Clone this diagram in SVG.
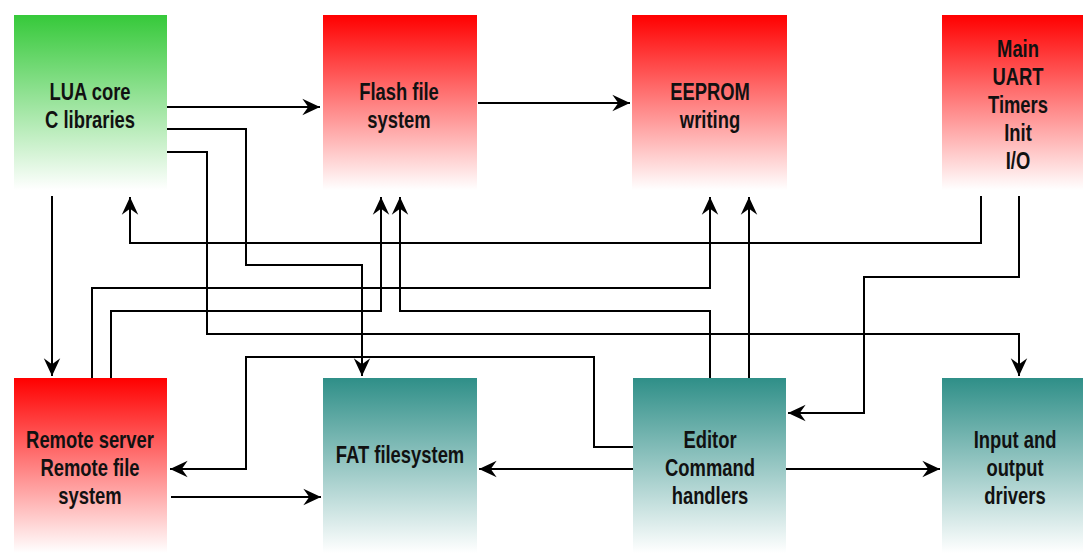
<svg xmlns="http://www.w3.org/2000/svg" width="1083" height="553" viewBox="0 0 1083 553">
  <defs>
    <linearGradient id="gGreen" x1="0" y1="0" x2="0" y2="1">
      <stop offset="0" stop-color="#36c93a"/>
      <stop offset="1" stop-color="#ffffff"/>
    </linearGradient>
    <linearGradient id="gRed" x1="0" y1="0" x2="0" y2="1">
      <stop offset="0" stop-color="#ff0000"/>
      <stop offset="1" stop-color="#ffffff"/>
    </linearGradient>
    <linearGradient id="gTeal" x1="0" y1="0" x2="0" y2="1">
      <stop offset="0" stop-color="#2f8f88"/>
      <stop offset="1" stop-color="#ffffff"/>
    </linearGradient>
    <marker id="arrow" markerUnits="userSpaceOnUse" markerWidth="20" markerHeight="20" viewBox="-16 -8 17 16" refX="0" refY="0" orient="auto">
      <path d="M0,0 L-15,-7 L-10,0 L-15,7 Z" fill="#000"/>
    </marker>
  </defs>
  <style>
    .lbl { font-family: "Liberation Sans", Arial, sans-serif; font-weight: bold; font-size: 23px; fill: #111; text-anchor: middle; }
    .wire { fill: none; stroke: #000; stroke-width: 2; }
    .arr { marker-end: url(#arrow); }
  </style>
  <rect width="1083" height="553" fill="#fff"/>

  <!-- labels use a condensed bold face: each label block is squeezed horizontally around its centre -->
  <g id="lua">
    <rect x="14" y="15" width="153" height="175" fill="url(#gGreen)"/>
    <g transform="translate(90 0) scale(0.8 1)">
      <text class="lbl" x="0" y="100">LUA core</text>
      <text class="lbl" x="0" y="128">C libraries</text>
    </g>
  </g>
  <g id="flash">
    <rect x="323" y="15" width="154" height="175" fill="url(#gRed)"/>
    <g transform="translate(399 0) scale(0.8 1)">
      <text class="lbl" x="0" y="100">Flash file</text>
      <text class="lbl" x="0" y="128">system</text>
    </g>
  </g>
  <g id="eeprom">
    <rect x="632" y="15" width="155" height="175" fill="url(#gRed)"/>
    <g transform="translate(710 0) scale(0.8 1)">
      <text class="lbl" x="0" y="100">EEPROM</text>
      <text class="lbl" x="0" y="128">writing</text>
    </g>
  </g>
  <g id="main">
    <rect x="942" y="15" width="155" height="175" fill="url(#gRed)"/>
    <g transform="translate(1018 0) scale(0.8 1)">
      <text class="lbl" x="0" y="57">Main</text>
      <text class="lbl" x="0" y="85">UART</text>
      <text class="lbl" x="0" y="113">Timers</text>
      <text class="lbl" x="0" y="141">Init</text>
      <text class="lbl" x="0" y="169">I/O</text>
    </g>
  </g>
  <g id="remote">
    <rect x="14" y="378" width="153" height="175" fill="url(#gRed)"/>
    <g transform="translate(90 0) scale(0.8 1)">
      <text class="lbl" x="0" y="448">Remote server</text>
      <text class="lbl" x="0" y="476">Remote file</text>
      <text class="lbl" x="0" y="504">system</text>
    </g>
  </g>
  <g id="fat">
    <rect x="323" y="378" width="154" height="175" fill="url(#gTeal)"/>
    <g transform="translate(400 0) scale(0.8 1)">
      <text class="lbl" x="0" y="463">FAT filesystem</text>
    </g>
  </g>
  <g id="editor">
    <rect x="633" y="378" width="153" height="175" fill="url(#gTeal)"/>
    <g transform="translate(710 0) scale(0.8 1)">
      <text class="lbl" x="0" y="448">Editor</text>
      <text class="lbl" x="0" y="476">Command</text>
      <text class="lbl" x="0" y="504">handlers</text>
    </g>
  </g>
  <g id="drivers">
    <rect x="942" y="378" width="155" height="175" fill="url(#gTeal)"/>
    <g transform="translate(1015 0) scale(0.8 1)">
      <text class="lbl" x="0" y="448">Input and</text>
      <text class="lbl" x="0" y="476">output</text>
      <text class="lbl" x="0" y="504">drivers</text>
    </g>
  </g>

  <g id="connectors">
    <!-- LUA core -> Flash file system -->
    <path class="wire arr" d="M167,107 H320"/>
    <!-- Flash file system -> EEPROM writing -->
    <path class="wire arr" d="M478,103 H630"/>
    <!-- LUA core -> Remote server -->
    <path class="wire arr" d="M52,196 V376"/>
    <!-- Main -> LUA core -->
    <path class="wire arr" d="M981,196 V243 H130 V197"/>
    <!-- LUA core -> FAT filesystem -->
    <path class="wire arr" d="M167,129 H246 V265 H362 V376"/>
    <!-- LUA core -> Input and output drivers -->
    <path class="wire arr" d="M167,152 H207 V334 H1019 V376"/>
    <!-- Remote server -> EEPROM writing -->
    <path class="wire arr" d="M92,378 V288 H710 V197"/>
    <!-- Remote server -> Flash file system -->
    <path class="wire arr" d="M111,378 V311 H381 V197"/>
    <!-- Editor -> Flash file system -->
    <path class="wire arr" d="M710,378 V311 H400 V197"/>
    <!-- Editor -> EEPROM writing -->
    <path class="wire arr" d="M749,378 V197"/>
    <!-- Editor -> Remote server -->
    <path class="wire arr" d="M633,447 H594 V357 H246 V469 H170"/>
    <!-- Main -> Editor -->
    <path class="wire arr" d="M1019,196 V277 H864 V413 H788"/>
    <!-- Remote server -> FAT filesystem -->
    <path class="wire arr" d="M171,497 H321"/>
    <!-- Editor -> FAT filesystem -->
    <path class="wire arr" d="M633,469 H479"/>
    <!-- Editor -> Input and output drivers -->
    <path class="wire arr" d="M786,469 H940"/>
  </g>
</svg>
